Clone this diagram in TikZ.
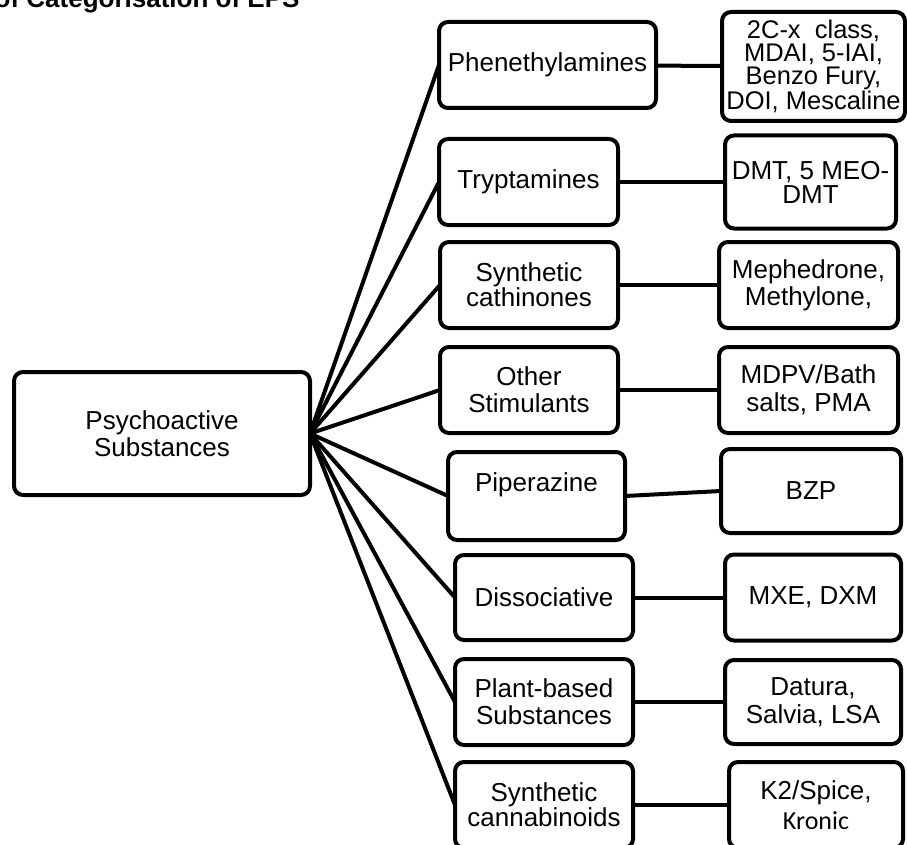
\documentclass[tikz,border=0pt]{standalone}
\usepackage{fontspec}
\setmainfont{Liberation Sans}
\newfontfamily\kronicfont{Carlito}
\usetikzlibrary{positioning}

\begin{document}
\begin{tikzpicture}[x=1pt, y=-1pt,
  box/.style={draw=black, line width=4pt, rounded corners=9pt, align=center, inner sep=0pt, outer sep=0pt, font=\fontsize{26}{27}\selectfont},
  catbox/.style={box, minimum width=178pt, minimum height=86pt},
  listbox/.style={box, minimum width=178pt, minimum height=86pt},
  link/.style={line width=4pt, draw=black}
]
\useasboundingbox (0,0) rectangle (907,845);
\clip (0,0) rectangle (907,845);

\node[anchor=base east, font=\bfseries\fontsize{26}{28}\selectfont] (title) at (303,8) {of Categorisation of EPS};

\node[box, minimum width=296pt, minimum height=123pt] (root) at (162,433.5) {Psychoactive\\Substances};

% categories
\node[catbox, minimum width=217pt] (phen) at (547.5,65) {Phenethylamines};
\node[catbox, minimum width=179pt] (tryp) at (528.5,182) {Tryptamines};
\node[catbox, font=\fontsize{26}{25}\selectfont] (cath) at (529,285) {Synthetic\\cathinones};
\node[catbox] (stim) at (529,390) {Other\\Stimulants};
\node[catbox, minimum width=177pt, minimum height=88pt] (pip) at (536.5,496) {Piperazine\\\mbox{}};
\node[catbox, minimum height=85pt] (diss) at (544,597.5) {Dissociative};
\node[catbox] (plant) at (544,702) {Plant-based\\Substances};
\node[catbox, font=\fontsize{26}{25}\selectfont] (cann) at (544,805) {Synthetic\\cannabinoids};

% examples
\node[listbox, right=66pt of phen, minimum width=183pt, minimum height=109pt, yshift=-1.5pt, font=\fontsize{25.5}{23}\selectfont] (phenlist) {2C-x\ \ class,\\MDAI, 5-IAI,\\Benzo Fury,\\DOI, Mescaline};
\node[listbox, right=107pt of tryp, minimum width=171pt, minimum height=93pt, font=\fontsize{26}{24}\selectfont] (tryplist) {DMT, 5 MEO-\\DMT};
\node[listbox, right=101pt of cath, minimum width=179pt] (cathlist) {Mephedrone,\\Methylone,};
\node[listbox, right=101pt of stim, minimum width=179pt, font=\fontsize{26}{28}\selectfont] (stimlist) {MDPV/Bath\\salts, PMA};
\node[listbox, right=96pt of pip, minimum width=180pt, minimum height=84pt, yshift=5pt] (piplist) {BZP};
\node[listbox, right=92pt of diss, minimum width=176pt] (disslist) {MXE, DXM};
\node[listbox, right=92pt of plant, minimum width=176pt, minimum height=84pt, font=\fontsize{26}{28}\selectfont] (plantlist) {Datura,\\Salvia, LSA};
\node[listbox, right=96pt of cann, minimum width=174pt, font=\fontsize{26}{30}\selectfont] (cannlist) {K2/Spice,\\{\kronicfont Kronic}};

\draw[link] (root.east) -- (phen.west);
\draw[link] (root.east) -- (tryp.west);
\draw[link] (root.east) -- (cath.west);
\draw[link] (root.east) -- (stim.west);
\draw[link] (root.east) -- (pip.west);
\draw[link] (root.east) -- (diss.west);
\draw[link] (root.east) -- (plant.west);
\draw[link] (root.east) -- (cann.west);

\draw[link] (phen) -- (phenlist);
\draw[link] (tryp) -- (tryplist);
\draw[link] (cath) -- (cathlist);
\draw[link] (stim) -- (stimlist);
\draw[link] (pip.east) -- (piplist.west);
\draw[link] (diss) -- (disslist);
\draw[link] (plant) -- (plantlist);
\draw[link] (cann) -- (cannlist);
\end{tikzpicture}
\end{document}
